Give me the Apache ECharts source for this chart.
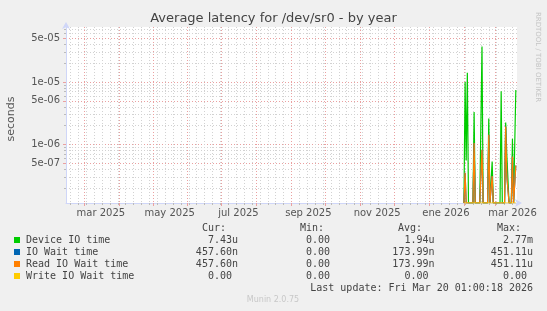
<!DOCTYPE html>
<html>
<head>
<meta charset="utf-8">
<script src="https://cdn.jsdelivr.net/npm/echarts@6/dist/echarts.min.js"></script>
<style>
html,body{margin:0;padding:0;background:#f0f0f0;}
#chart{width:547px;height:311px;}
</style>
</head>
<body>
<div id="chart"></div>
<script>
// daily averages, first day 2026-02-01 (no data before that)
var firstDay = '2026-02-01';
var deviceIO = [0, 1.0e-5, 5.5e-7, 1.4e-5, 0, 0, 0, 0, 0, 3.3e-6,
  0, 0, 0, 0, 0, 0, 3.7e-5, 0, 0, 0,
  0, 0, 2.6e-6, 0, 0, 5.3e-7, 0, 0, 0, 0,
  0, 0, 0, 7.1e-6, 0, 0, 0, 2.25e-6, 6.8e-7, 6.5e-7,
  0, 0, 0, 1.23e-6, 0, 0, 7.43e-6];
var readIO = [0, 3.5e-7, 0, 0, 0, 0, 0, 0, 0, 1.05e-6,
  0, 0, 0, 0, 0, 0, 8.2e-7, 0, 0, 0,
  0, 0, 1.43e-6, 0, 0, 3.1e-7, 0, 0, 0, 0,
  0, 0, 0, 0, 0, 0, 0, 1.94e-6, 3.1e-7, 3.1e-7,
  0, 0, 0, 6.4e-7, 0, 0, 4.576e-7];
var ioWait = readIO.slice();
var writeIO = deviceIO.map(function(){ return 0; });

var seriesNames = ['Device IO time', 'IO Wait time', 'Read IO Wait time', 'Write IO Wait time'];
var seriesColors = ['#00cc00', '#0066b3', '#ff8000', '#ffcc00'];
var curVals = ['7.43u', '457.60n', '457.60n', '0.00 '];
var minVals = ['0.00 ', '0.00 ', '0.00 ', '0.00 '];
var avgVals = ['1.94u', '173.99n', '173.99n', '0.00 '];
var maxVals = ['2.77m', '451.11u', '451.11u', '0.00 '];

var xMin = '2025-02-13T01:00:00';
var xMax = '2026-03-20T01:00:00';
var xLabels = ['mar 2025', 'may 2025', 'jul 2025', 'sep 2025', 'nov 2025', 'ene 2026', 'mar 2026'];
var xLabelDates = ['2025-03-16', '2025-05-16', '2025-07-16', '2025-09-16', '2025-11-16', '2026-01-16', '2026-03-16'];

var yMin = 1.15e-7;
var yMax = 7.6e-5;
var yLabelValues = [5e-7, 1e-6, 5e-6, 1e-5, 5e-5];

var tMin = new Date(xMin).getTime();
var tMax = new Date(xMax).getTime();

function toSeries(vals){
  var base = new Date(firstDay+'T00:00:00');
  return vals.map(function(v,i){
    var d = new Date(base.getFullYear(), base.getMonth(), base.getDate()+i);
    // zero sits on the bottom of the log axis, like rrdtool does
    return [d.getTime(), v === 0 ? yMin : v];
  });
}

// grid positions: weeks (minor) and month starts (major)
var weekTicks = [], monthTicks = [];
(function(){
  var a = new Date(tMin);
  var d = new Date(a.getFullYear(), a.getMonth(), a.getDate()+1);
  while(d.getTime() <= tMax){
    if(d.getDay() === 1) weekTicks.push(d.getTime());
    if(d.getDate() === 1) monthTicks.push(d.getTime());
    d = new Date(d.getFullYear(), d.getMonth(), d.getDate()+1);
  }
})();
var minorY = [];
[1e-7, 1e-6, 1e-5].forEach(function(p){
  for(var k=1;k<10;k++){
    var v = +(k*p).toPrecision(3);
    if(v >= yMin && v <= yMax) minorY.push(v);
  }
});

var labelTimes = xLabelDates.map(function(s){ return new Date(s+'T00:00:00').getTime(); });

function expLabel(v){
  var e = Math.floor(Math.log10(v)+1e-9);
  var m = Math.round(v/Math.pow(10,e));
  var ae = Math.abs(e);
  return m+'e'+(e<0?'-':'+')+(ae<10?'0':'')+ae;
}

var font = 'DejaVu Sans';
var mono = 'DejaVu Sans Mono';
var axisColor = '#cfd6f8';
var minorColor = '#d2d2d2';
var majorColor = '#eaa0a0';

var chart = echarts.init(document.getElementById('chart'), null, {renderer:'canvas'});

var graphic = [];
graphic.push({type:'text', x:538, y:57, rotation:-Math.PI/2,
  style:{text:'RRDTOOL / TOBI OETIKER', fill:'#c4c4c4', font:'7px "'+font+'"', align:'center', verticalAlign:'middle', textAlign:'center', textVerticalAlign:'middle'}});
graphic.push({type:'text', x:11, y:119, rotation:Math.PI/2,
  style:{text:'seconds', fill:'#555', font:'11px "'+font+'"', align:'center', verticalAlign:'middle', textAlign:'center', textVerticalAlign:'middle'}});
var hdr = [['Cur:',226],['Min:',324],['Avg:',422],['Max:',521]];
hdr.forEach(function(h){
  graphic.push({type:'text', x:h[1], y:228,
    style:{text:h[0], fill:'#444', font:'10px "'+mono+'"', align:'right', verticalAlign:'middle', textAlign:'right', textVerticalAlign:'middle'}});
});
seriesNames.forEach(function(n,i){
  var y = 240 + i*12;
  graphic.push({type:'rect', shape:{x:14, y:y-3, width:6, height:6}, style:{fill:seriesColors[i]}});
  graphic.push({type:'text', x:26, y:y,
    style:{text:n, fill:'#444', font:'10px "'+mono+'"', align:'left', verticalAlign:'middle', textAlign:'left', textVerticalAlign:'middle'}});
  [[curVals,238],[minVals,336],[avgVals,434.5],[maxVals,533]].forEach(function(c){
    graphic.push({type:'text', x:c[1], y:y,
      style:{text:c[0][i], fill:'#444', font:'10px "'+mono+'"', align:'right', verticalAlign:'middle', textAlign:'right', textVerticalAlign:'middle'}});
  });
});
graphic.push({type:'text', x:533, y:288,
  style:{text:'Last update: Fri Mar 20 01:00:18 2026', fill:'#444', font:'10px "'+mono+'"', align:'right', verticalAlign:'middle', textAlign:'right', textVerticalAlign:'middle'}});
graphic.push({type:'text', x:273, y:300,
  style:{text:'Munin 2.0.75', fill:'#c8c8c8', font:'8px "'+font+'"', align:'center', verticalAlign:'middle', textAlign:'center', textVerticalAlign:'middle'}});

var option = {
  backgroundColor:'#f0f0f0',
  animation:false,
  title:{
    text:'Average latency for /dev/sr0 - by year',
    left:'center', top:12, padding:0,
    textStyle:{fontFamily:font, fontSize:13, fontWeight:'normal', color:'#444'}
  },
  grid:{left:66, right:30, top:27, bottom:108, show:true, backgroundColor:'#ffffff', borderWidth:0, containLabel:false},
  xAxis:[
    {
      type:'value', min:tMin, max:tMax, position:'bottom',
      axisLine:{show:true, lineStyle:{color:axisColor, width:1}, symbol:['none','arrow'], symbolSize:[6,7], symbolOffset:[0,5]},
      axisTick:{show:true, length:2, customValues:weekTicks, lineStyle:{color:'#bbbbbb'}},
      axisLabel:{show:false},
      splitLine:{show:true, lineStyle:{color:minorColor, type:[1,2], width:1}}
    },
    {
      type:'value', min:tMin, max:tMax, position:'bottom', offset:0,
      axisLine:{show:false},
      axisTick:{show:true, length:3, customValues:monthTicks, lineStyle:{color:majorColor}},
      axisLabel:{show:true, customValues:labelTimes, margin:5, color:'#555', fontFamily:font, fontSize:10,
        formatter:function(v){ var i = labelTimes.indexOf(+v); return i>=0 ? xLabels[i] : ''; }},
      splitLine:{show:true, lineStyle:{color:majorColor, type:[1,2], width:1}}
    }
  ],
  yAxis:[
    {
      type:'log', min:yMin, max:yMax, position:'left',
      axisLine:{show:true, lineStyle:{color:axisColor, width:1}, symbol:['none','arrow'], symbolSize:[6,7], symbolOffset:[0,5]},
      axisTick:{show:true, length:2, customValues:minorY, lineStyle:{color:'#bbbbbb'}},
      axisLabel:{show:false},
      splitLine:{show:true, lineStyle:{color:minorColor, type:[1,2], width:1}}
    },
    {
      type:'log', min:yMin, max:yMax, position:'left', offset:0,
      axisLine:{show:false},
      axisTick:{show:true, length:3, customValues:yLabelValues, lineStyle:{color:majorColor}},
      axisLabel:{show:true, customValues:yLabelValues, margin:6, color:'#555', fontFamily:font, fontSize:10,
        formatter:function(v){ return expLabel(v); }},
      splitLine:{show:true, lineStyle:{color:majorColor, type:[1,2], width:1}}
    }
  ],
  series:[deviceIO, ioWait, readIO, writeIO].map(function(vals,i){
    return {
      name:seriesNames[i], type:'line', xAxisIndex:0, yAxisIndex:0,
      data:toSeries(vals), showSymbol:false, symbol:'none', clip:true,
      lineStyle:{color:seriesColors[i], width:1.2}, itemStyle:{color:seriesColors[i]}
    };
  }),
  graphic:graphic
};
chart.setOption(option);
</script>
</body>
</html>
